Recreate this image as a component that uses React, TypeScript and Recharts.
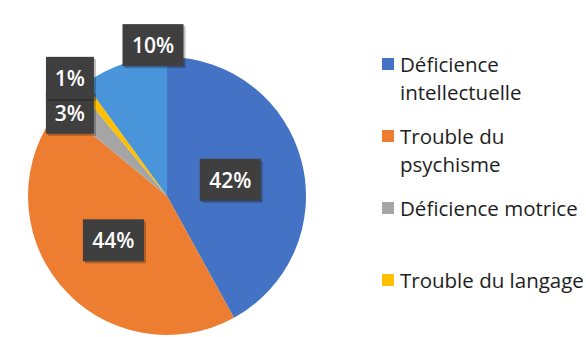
import { PieChart, Pie, Cell, Legend } from 'recharts'

const categories = [
  'Déficience intellectuelle',
  'Trouble du psychisme',
  'Déficience motrice',
  'Trouble du langage',
  'Autre',
]
const values = [42, 44, 3, 1, 10]
const colors = ['#4472c4', '#ed7d31', '#a5a5a5', '#ffc000', '#4a95d9']
const legendCount = 4

// label placement around each slice: radius factor + angle shift (deg)
const labelPlacement = [
  { r: 0.47, shift: 0 },
  { r: 0.5, shift: 0 },
  { r: 0.92, shift: 4.4 },
  { r: 1.1, shift: 1.6 },
  { r: 1.09, shift: -12.7 },
]

const data = categories.map((name, i) => ({ name, value: values[i] }))

const RAD = Math.PI / 180

function renderLabel(props: any) {
  const { cx, cy, midAngle, outerRadius, percent, index } = props
  const p = labelPlacement[index]
  const a = (midAngle + p.shift) * RAD
  const x = cx + outerRadius * p.r * Math.cos(-a)
  const y = cy + outerRadius * p.r * Math.sin(-a)
  const text = `${Math.round(percent * 100)}%`
  const w = text.length * 13 + 22
  const h = 42
  return (
    <g key={`lbl-${index}`}>
      <rect x={x - w / 2 + 2} y={y - h / 2 + 2} width={w} height={h} fill="#000" opacity={0.25} />
      <rect x={x - w / 2} y={y - h / 2} width={w} height={h} fill="#3f3f3f" />
      <text
        x={x}
        y={y}
        fill="#fff"
        textAnchor="middle"
        dominantBaseline="central"
        fontFamily="'Open Sans', sans-serif"
        fontWeight={600}
        fontSize={21}
      >
        {text}
      </text>
    </g>
  )
}

function LegendContent() {
  // keep the slice order, only the first four categories are listed
  const items = categories.slice(0, legendCount).map((name, i) => ({ name, color: colors[i] }))
  return (
    <div style={{ fontFamily: "'Open Sans', sans-serif", fontSize: 20.5, color: '#1e1e1e' }}>
      {items.map((it, i) => (
        <div key={i} style={{ display: 'flex', alignItems: 'flex-start', height: 72, lineHeight: '28px' }}>
          <span
            style={{
              width: 12,
              height: 12,
              background: it.color,
              marginTop: 8,
              marginRight: 6,
              flex: 'none',
            }}
          />
          <span style={{ width: 186 }}>{it.name}</span>
        </div>
      ))}
    </div>
  )
}

export default function App() {
  return (
    <div style={{ position: 'absolute', left: 0, top: 0, background: '#fff' }}>
      <PieChart width={586} height={337}>
        <Pie
          data={data}
          dataKey="value"
          nameKey="name"
          cx={162}
          cy={191}
          outerRadius={139}
          startAngle={90}
          endAngle={-270}
          stroke="none"
          label={renderLabel}
          labelLine={false}
          isAnimationActive={false}
        >
          {data.map((d, i) => (
            <Cell key={d.name} fill={colors[i]} />
          ))}
        </Pie>
        <Legend
          layout="vertical"
          content={<LegendContent />}
          wrapperStyle={{ left: 382, top: 50, width: 204 }}
        />
      </PieChart>
    </div>
  )
}
